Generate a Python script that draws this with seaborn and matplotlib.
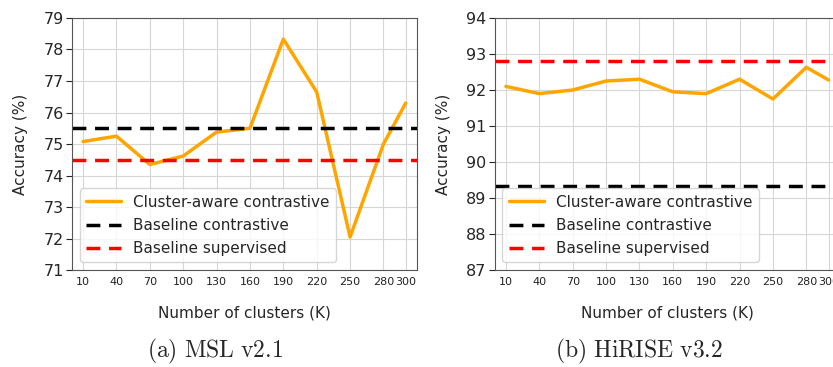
import numpy as np
import pandas as pd
import seaborn as sns
import matplotlib.pyplot as plt

# data
clusters = [10, 40, 70, 100, 130, 160, 190, 220, 250, 280, 300]
msl_acc = [75.08, 75.25, 74.35, 74.62, 75.38, 75.50, 78.33, 76.65, 72.05, 75.00, 76.30]
hirise_acc = [92.10, 91.90, 92.00, 92.25, 92.30, 91.95, 91.90, 92.30, 91.75, 92.63, 92.28]
msl_baseline_contrastive = 75.5
msl_baseline_supervised = 74.5
hirise_baseline_contrastive = 89.33
hirise_baseline_supervised = 92.8
msl_yticks = [71, 72, 73, 74, 75, 76, 77, 78, 79]
hirise_yticks = [87, 88, 89, 90, 91, 92, 93, 94]
captions = [r"$\mathrm{(a)\ MSL\ v2.1}$", r"$\mathrm{(b)\ HiRISE\ v3.2}$"]

sns.set_style("whitegrid", {"grid.color": "#d6d6d6", "axes.edgecolor": "#555555"})
plt.rcParams["font.family"] = ["DejaVu Sans"]
plt.rcParams["mathtext.fontset"] = "cm"

fig = plt.figure(figsize=(8.33, 3.67), dpi=100)
ax1 = fig.add_axes([0.0864, 0.264, 0.414, 0.687])
ax2 = fig.add_axes([0.594, 0.264, 0.414, 0.687])


def draw_panel(ax, acc, base_con, base_sup, yticks):
    df = pd.DataFrame({"K": clusters, "acc": acc})
    sns.lineplot(data=df, x="K", y="acc", ax=ax, color="orange", linewidth=2.5,
                 label="Cluster-aware contrastive")
    ax.axhline(base_con, color="black", linestyle="--", linewidth=2.5,
               dashes=(4, 2.5), label="Baseline contrastive")
    ax.axhline(base_sup, color="red", linestyle="--", linewidth=2.5,
               dashes=(4, 2.5), label="Baseline supervised")
    ax.set_xlim(0, 310)
    ax.set_ylim(yticks[0], yticks[-1])
    ax.set_xticks(clusters)
    ax.set_yticks(yticks)
    ax.tick_params(axis="x", labelsize=8, colors="#222222", length=0, pad=5)
    ax.tick_params(axis="y", labelsize=11.5, left=True, length=4, width=0.8, pad=2)
    ax.grid(True, linewidth=0.8)
    for s in ax.spines.values():
        s.set_linewidth(0.8)
    ax.set_xlabel("Number of clusters (K)", fontsize=11, labelpad=13)
    ax.set_ylabel("Accuracy (%)", fontsize=11, labelpad=11)
    ax.legend(loc="lower left", fontsize=11, frameon=True, handlelength=2.3,
              borderpad=0.4, labelspacing=0.55, handletextpad=0.8)


draw_panel(ax1, msl_acc, msl_baseline_contrastive, msl_baseline_supervised, msl_yticks)
draw_panel(ax2, hirise_acc, hirise_baseline_contrastive, hirise_baseline_supervised, hirise_yticks)

fig.text(0.258, 0.041, captions[0], ha="center", va="center", fontsize=17)
fig.text(0.767, 0.041, captions[1], ha="center", va="center", fontsize=17)

fig.savefig("out.png", dpi=100)
